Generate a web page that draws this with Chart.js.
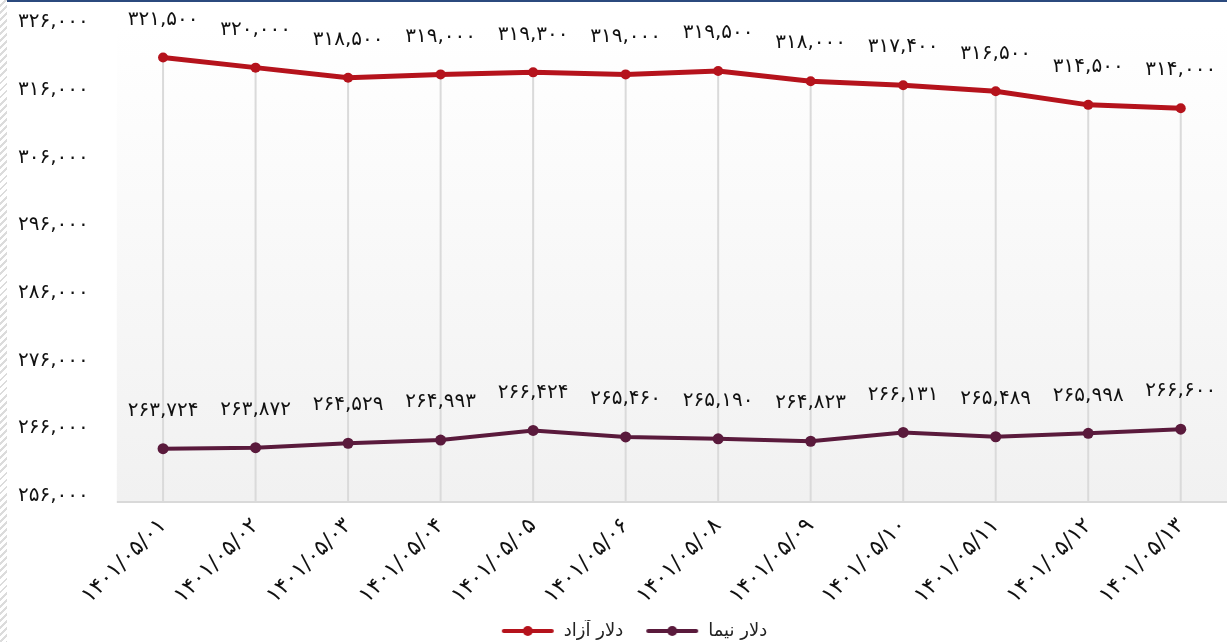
<!DOCTYPE html>
<html>
<head>
<meta charset="utf-8">
<script src="https://cdn.jsdelivr.net/npm/chart.js@4/dist/chart.umd.min.js"></script>
<style>
  html, body { margin: 0; padding: 0; background: #fff; overflow: hidden; }
  #wrap { position: relative; width: 1227px; height: 642px; }
  #hatch {
    position: absolute; left: 0; top: 0; width: 7px; height: 642px;
    background: repeating-linear-gradient(135deg, #fff 0 3px, #dcdcdc 3px 5px);
  }
  #topline { position: absolute; left: 7px; top: 0; right: 0; height: 2px; background: #2b4a7e; }
  #box { position: absolute; left: 0; top: 0; width: 1227px; height: 642px; }
</style>
</head>
<body>
<div id="wrap">
  <div id="box"><canvas id="chart"></canvas></div>
  <div id="hatch"></div>
  <div id="topline"></div>
</div>
<script>
const dates = ["1401/05/01", "1401/05/02", "1401/05/03", "1401/05/04", "1401/05/05", "1401/05/06",
  "1401/05/08", "1401/05/09", "1401/05/10", "1401/05/11", "1401/05/12", "1401/05/13"];

const freeDollar = [321500, 320000, 318500, 319000, 319300, 319000, 319500, 318000, 317400, 316500, 314500, 314000];
const nimaDollar = [263724, 263872, 264529, 264993, 266424, 265460, 265190, 264823, 266131, 265489, 265998, 266600];

const yMin = 256000;
const yMax = 326000;
const yStep = 10000;

const RED = "#b5131c";
const PURPLE = "#5a1a3c";
const FONT = "'DejaVu Sans', sans-serif";

const faDigits = "۰۱۲۳۴۵۶۷۸۹";
function toFa(s) {
  return String(s).replace(/\d/g, (d) => faDigits[d]);
}
function fmt(n) {
  return toFa(n.toLocaleString("en-US"));
}

// legend marker: short line with a dot in the middle, blank gap on the left
function legendMarker(color) {
  const c = document.createElement("canvas");
  c.width = 74;
  c.height = 12;
  const g = c.getContext("2d");
  g.strokeStyle = color;
  g.lineWidth = 4;
  g.lineCap = "round";
  g.beginPath();
  g.moveTo(23, 6);
  g.lineTo(71, 6);
  g.stroke();
  g.fillStyle = color;
  g.beginPath();
  g.arc(47, 6, 5, 0, Math.PI * 2);
  g.fill();
  return c;
}

const plotBackground = {
  id: "plotBackground",
  beforeDraw(chart) {
    const { ctx, chartArea: a } = chart;
    const grad = ctx.createLinearGradient(0, a.top, 0, a.bottom);
    grad.addColorStop(0, "#ffffff");
    grad.addColorStop(1, "#f1f1f1");
    ctx.save();
    ctx.fillStyle = grad;
    ctx.fillRect(a.left, a.top, a.right - a.left, a.bottom - a.top);
    ctx.restore();
  },
  beforeDatasetsDraw(chart) {
    // drop lines from the highest point down to the axis
    const { ctx, chartArea: a } = chart;
    const top = chart.getDatasetMeta(0).data;
    ctx.save();
    ctx.strokeStyle = "#dadada";
    ctx.lineWidth = 2;
    top.forEach((pt) => {
      ctx.beginPath();
      ctx.moveTo(pt.x, pt.y);
      ctx.lineTo(pt.x, a.bottom);
      ctx.stroke();
    });
    ctx.strokeStyle = "#d9d9d9";
    ctx.beginPath();
    ctx.moveTo(a.left, a.bottom + 1);
    ctx.lineTo(a.right, a.bottom + 1);
    ctx.stroke();
    ctx.restore();
  },
};

const pointLabels = {
  id: "pointLabels",
  afterDatasetsDraw(chart) {
    const { ctx } = chart;
    ctx.save();
    ctx.font = "20px " + FONT;
    ctx.fillStyle = "#111";
    ctx.textAlign = "center";
    ctx.textBaseline = "middle";
    chart.data.datasets.forEach((ds, i) => {
      chart.getDatasetMeta(i).data.forEach((pt, j) => {
        ctx.fillText(fmt(ds.data[j]), pt.x, pt.y - 38);
      });
    });
    ctx.restore();
  },
};

const chartData = {
  labels: dates,
  datasets: [
    {
      label: "دلار آزاد",
      data: freeDollar,
      borderColor: RED,
      backgroundColor: RED,
      borderWidth: 5,
      pointRadius: 5,
      pointBorderWidth: 0,
      tension: 0,
    },
    {
      label: "دلار نیما",
      data: nimaDollar,
      borderColor: PURPLE,
      backgroundColor: PURPLE,
      borderWidth: 4,
      pointRadius: 5.5,
      pointBorderWidth: 0,
      tension: 0,
    },
  ],
};

const markers = [legendMarker(RED), legendMarker(PURPLE)];

const chartConfig = {
  type: "line",
  data: chartData,
  plugins: [plotBackground, pointLabels],
  options: {
    responsive: true,
    maintainAspectRatio: false,
    animation: false,
    layout: {
      autoPadding: false,
      padding: { top: 27, right: -3, left: 18, bottom: -8 },
    },
    plugins: {
      tooltip: { enabled: false },
      legend: {
        position: "bottom",
        labels: {
          usePointStyle: true,
          pointStyleWidth: 74,
          padding: 2,
          color: "#222",
          font: { size: 18, family: FONT },
          generateLabels: (chart) => {
            const items = Chart.defaults.plugins.legend.labels.generateLabels(chart);
            items.forEach((it, i) => {
              it.pointStyle = markers[i];
            });
            return items;
          },
        },
      },
    },
    scales: {
      x: {
        offset: true,
        grid: { display: false, drawTicks: false },
        border: { display: false },
        afterFit: (scale) => {
          scale.paddingLeft = 0;
          scale.paddingRight = 0;
          scale.height -= 1;
        },
        ticks: {
          minRotation: 45,
          maxRotation: 45,
          padding: 12,
          color: "#111",
          font: { size: 22, family: FONT },
          callback: function (value, index) {
            return toFa(dates[index]);
          },
        },
      },
      y: {
        min: yMin,
        max: yMax,
        grid: { display: false, drawTicks: false },
        border: { display: false },
        afterFit: (scale) => {
          scale.paddingTop = 0;
          scale.width -= scale.options.ticks.padding;
        },
        ticks: {
          stepSize: yStep,
          padding: 28,
          labelOffset: -5,
          color: "#111",
          font: { size: 20, family: FONT },
          callback: (value) => fmt(value),
        },
      },
    },
  },
};

const chart = new Chart(document.getElementById("chart"), chartConfig);
</script>
</body>
</html>
